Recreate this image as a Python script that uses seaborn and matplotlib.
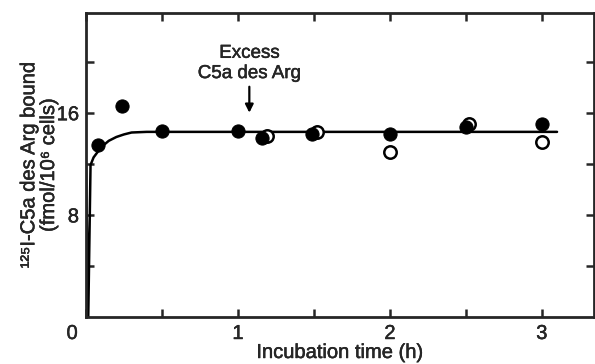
import matplotlib
matplotlib.use('Agg')
import matplotlib.pyplot as plt
import matplotlib.patheffects as pe
import matplotlib.transforms as mtransforms
import seaborn as sns
import pandas as pd

# filled circles
t_filled = [0.08, 0.24, 0.5, 1.0, 1.16, 1.49, 2.0, 2.5, 3.0]
y_filled = [13.5, 16.5, 14.6, 14.6, 14.0, 14.3, 14.3, 14.9, 15.1]
# open circles (after excess C5a des Arg)
t_open = [1.19, 1.52, 2.0, 2.52, 3.0]
y_open = [14.2, 14.5, 12.9, 15.1, 13.7]
# fitted curve
t_curve = [0.0, 0.015, 0.03, 0.05, 0.1, 0.15, 0.2, 0.25, 0.3, 0.4, 3.1]
y_curve = [11.9, 0.0, 11.9, 12.5, 13.3, 13.8, 14.1, 14.3, 14.45, 14.5, 14.5]

sns.set_style('ticks')
plt.rcParams['font.family'] = ['Liberation Sans', 'DejaVu Sans']
heavy = [pe.withStroke(linewidth=0.3, foreground='black')]

fig = plt.figure(figsize=(5.95, 3.64), dpi=100)
ax = fig.add_axes([0.1445, 0.129, 0.853, 0.835])

curve = pd.DataFrame({'t': t_curve, 'y': y_curve})
sns.lineplot(data=curve, x='t', y='y', ax=ax, color='black', lw=1.8, sort=False, estimator=None)
sns.scatterplot(x=t_open, y=y_open, ax=ax, s=80, facecolor='white', edgecolor='black', linewidth=1.8, zorder=3)
sns.scatterplot(x=t_filled, y=y_filled, ax=ax, s=90, color='black', edgecolor='black', zorder=4)

ax.set_xlim(0, 3.34)
ax.set_ylim(0, 23.8)
ax.set_xticks([0, 0.5, 1, 1.5, 2, 2.5, 3])
ax.set_xticklabels(['0', '', '1', '', '2', '', '3'])
ax.set_yticks([4, 8, 12, 16, 20])
ax.set_yticklabels(['', '8', '', '16', ''])
ax.tick_params(direction='in', length=6, width=1.8, top=True, right=True, labelsize=14.5, pad=5)
for s in ax.spines.values():
    s.set_linewidth(2)
    s.set_visible(True)

# the "0" sits left of the corner in the original
lab0 = ax.get_xticklabels()[0]
lab0.set_transform(lab0.get_transform() + mtransforms.ScaledTranslation(-10 / 72, 0, fig.dpi_scale_trans))

ax.set_xlabel('Incubation time (h)', fontsize=14.5, labelpad=0)
ax.set_ylabel('¹²⁵I-C5a des Arg bound\n(fmol/10⁶ cells)', fontsize=14.5, labelpad=-1, linespacing=1.05)

ax.annotate('Excess\nC5a des Arg', xy=(1.075, 16.0), xytext=(1.075, 18.4),
            ha='center', va='bottom', fontsize=13.5, linespacing=1.25,
            arrowprops=dict(arrowstyle='-|>', color='black', lw=1.6, mutation_scale=12,
                            shrinkA=1, shrinkB=0))

texts = [ax.xaxis.label, ax.yaxis.label] + ax.get_xticklabels() + ax.get_yticklabels() + ax.texts
for t in texts:
    t.set_path_effects(heavy)

fig.savefig('out.png', dpi=100)
